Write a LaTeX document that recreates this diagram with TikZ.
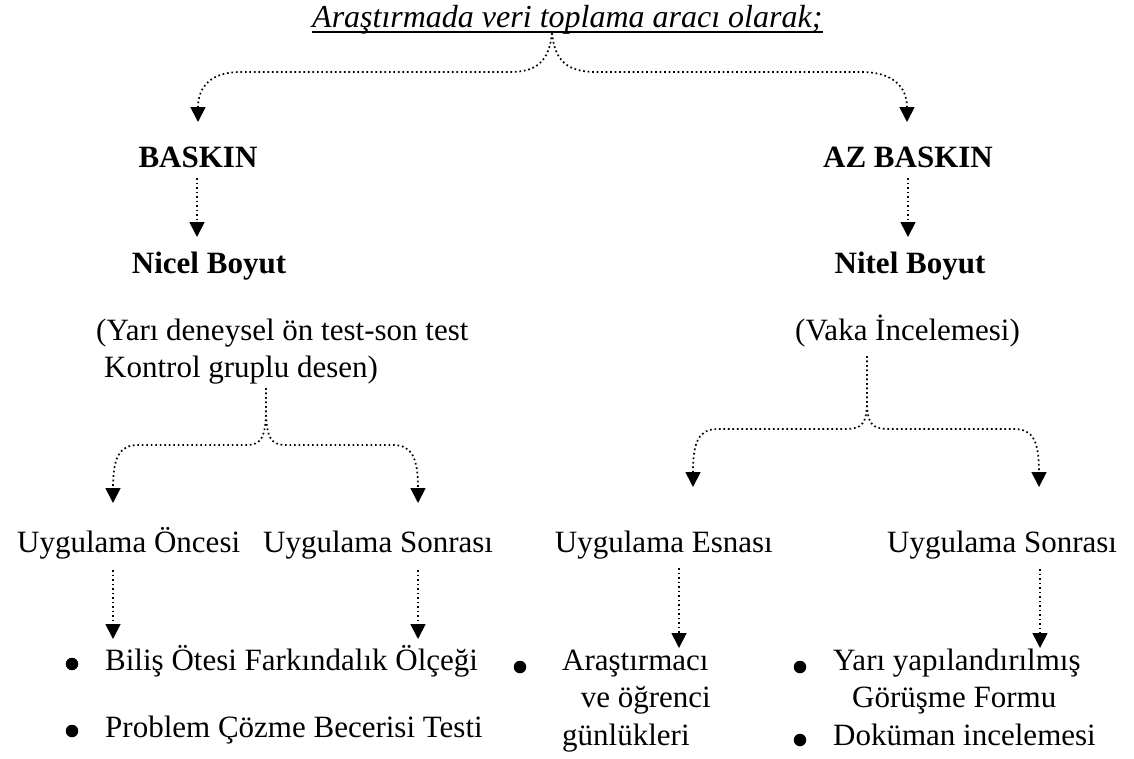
\documentclass[tikz,border=0pt]{standalone}
\usepackage{fontspec}
\setmainfont{Liberation Serif}
\usetikzlibrary{arrows.meta}
\begin{document}
\begin{tikzpicture}[x=1pt,y=-1pt,
  txt/.style={inner sep=0pt, font=\fontsize{31}{37}\selectfont},
  head/.style={inner sep=0pt, font=\fontsize{31}{37}\selectfont\bfseries},
  dotline/.style={line width=1.7pt, dash pattern=on 1.7pt off 2.8pt},
  dotarrow/.style={dotline, -{Triangle[width=15pt,length=15pt]}},
  bul/.style={circle, fill=black, inner sep=0pt, minimum size=12.5pt}]
\useasboundingbox (0,0) rectangle (1134,758);

% title with underline
\node[inner sep=0pt, anchor=base west, font=\fontsize{32}{38}\selectfont\itshape]
  (title) at (312,27) {Araştırmada veri toplama aracı olarak;};
\draw[line width=1.6pt] ([yshift=-5pt]title.base west) -- ([yshift=-5pt]title.base east);
\coordinate (top) at (552,33);

% first level
\node[head, anchor=base] (baskin) at (198,167) {BASKIN};
\node[head, anchor=base] (azbaskin) at (908,167) {AZ BASKIN};
\coordinate (tipA) at (198,122);
\coordinate (tipB) at (907,122);
\draw[dotarrow] (top) .. controls (549,62) and (536,72) .. (510,72) -- (240,72)
  .. controls (212,72) and (198,86) .. (tipA);
\draw[dotarrow] (top) .. controls (555,62) and (568,72) .. (597,72) -- (861,72)
  .. controls (892,72) and (907,86) .. (tipB);

% second level
\node[head, anchor=base] (nicel) at (209,273) {Nicel Boyut};
\node[head, anchor=base] (nitel) at (910,273) {Nitel Boyut};
\coordinate (nA1) at (197,178); \coordinate (nA2) at (197,237);
\coordinate (nB1) at (908,178); \coordinate (nB2) at (908,237);
\draw[dotarrow] (nA1) -- (nA2);
\draw[dotarrow] (nB1) -- (nB2);

% designs
\node[txt, anchor=base west] (yari) at (96,340) {(Yarı deneysel ön test-son test};
\node[txt, anchor=base west] (kontrol) at (104,377) {Kontrol gruplu desen)};
\node[txt, anchor=base] (vaka) at (907.5,340) {(Vaka İncelemesi)};

% left split
\coordinate (jL) at (266,388);
\coordinate (tipL1) at (113,503);
\coordinate (tipL2) at (418,503);
\draw[dotarrow] (jL) -- (266,408) .. controls (266,438) and (261,445) .. (246,445) -- (138,445)
  .. controls (119,445) and (113,458) .. (tipL1);
\draw[dotarrow] (jL) -- (266,408) .. controls (266,438) and (271,445) .. (286,445) -- (393,445)
  .. controls (412,445) and (418,458) .. (tipL2);

% right split
\coordinate (jR) at (867,356);
\coordinate (tipR1) at (693,487);
\coordinate (tipR2) at (1039,487);
\draw[dotarrow] (jR) -- (867,400) .. controls (867,424) and (862,429) .. (845,429) -- (718,429)
  .. controls (699,429) and (693,441) .. (tipR1);
\draw[dotarrow] (jR) -- (867,400) .. controls (867,424) and (872,429) .. (889,429) -- (1014,429)
  .. controls (1033,429) and (1039,441) .. (tipR2);

% phases
\node[txt, anchor=base west] (u1) at (17,552) {Uygulama Öncesi};
\node[txt, anchor=base west] (u2) at (263,552) {Uygulama Sonrası};
\node[txt, anchor=base east] (u3) at (773,552) {Uygulama Esnası};
\node[txt, anchor=base west] (u4) at (887,552) {Uygulama Sonrası};

\coordinate (p1a) at (113,570); \coordinate (p1b) at (113,639);
\coordinate (p2a) at (418,570); \coordinate (p2b) at (418,639);
\coordinate (p3a) at (679,568); \coordinate (p3b) at (679,648);
\coordinate (p4a) at (1040,569); \coordinate (p4b) at (1040,648);
\draw[dotarrow] (p1a) -- (p1b);
\draw[dotarrow] (p2a) -- (p2b);
\draw[dotarrow] (p3a) -- (p3b);
\draw[dotarrow] (p4a) -- (p4b);

% instruments
\node[bul] (b1) at (72,664) {};
\node[txt, anchor=base west] (i1) at (105,670) {Biliş Ötesi Farkındalık Ölçeği};
\node[bul] (b2) at (72,731) {};
\node[txt, anchor=base west] (i2) at (105,737) {Problem Çözme Becerisi Testi};

\node[bul] (b3) at (520,667) {};
\node[txt, anchor=base west] (i3a) at (562,670) {Araştırmacı};
\node[txt, anchor=base east] (i3b) at (711,707) {ve öğrenci};
\node[txt, anchor=base west] (i3c) at (562,745) {günlükleri};

\node[bul] (b4) at (800,667) {};
\node[txt, anchor=base west] (i4a) at (833,670) {Yarı yapılandırılmış};
\node[txt, anchor=base west] (i4b) at (852,707) {Görüşme Formu};
\node[bul] (b5) at (800,740) {};
\node[txt, anchor=base west] (i5) at (833,745) {Doküman incelemesi};
\end{tikzpicture}
\end{document}
